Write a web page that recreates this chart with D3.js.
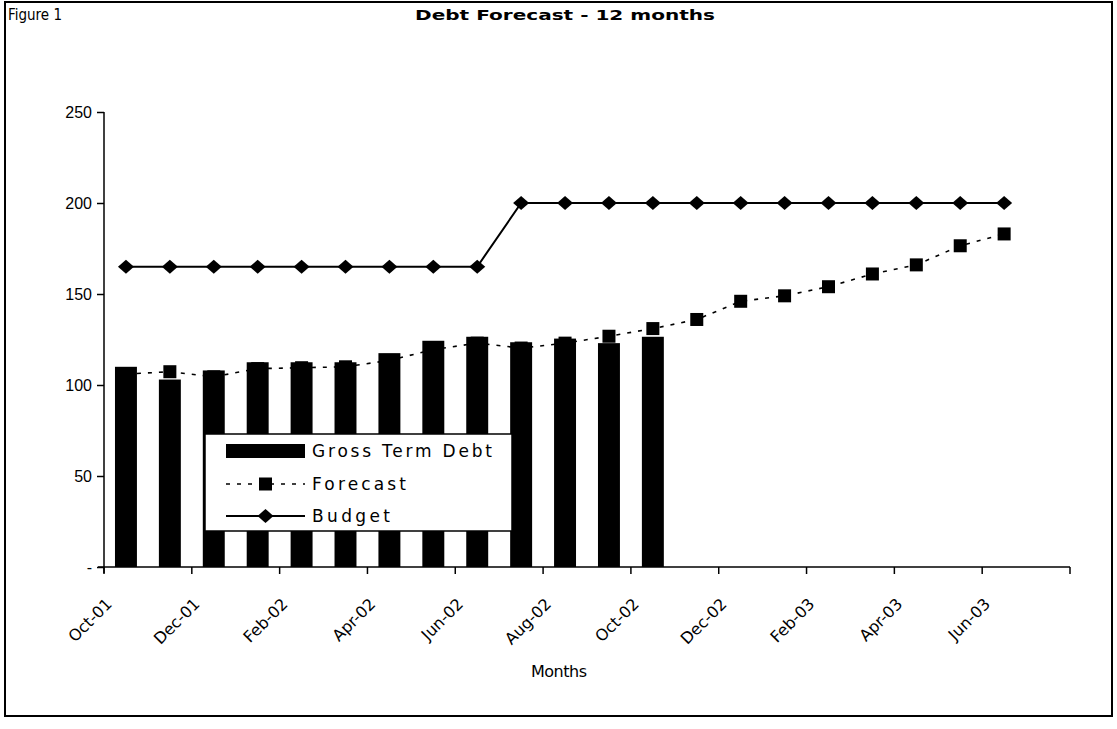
<!DOCTYPE html>
<html>
<head>
<meta charset="utf-8">
<script src="https://cdn.jsdelivr.net/npm/d3@7"></script>
<style>
  html, body { margin: 0; padding: 0; background: #fff; }
  svg { display: block; font-family: "DejaVu Sans", sans-serif; }
</style>
</head>
<body>
<svg id="chart" width="1117" height="729"></svg>
<script>
// Monthly categories on the horizontal axis (Oct 2001 – Jul 2003)
const months = ["Oct-01","Nov-01","Dec-01","Jan-02","Feb-02","Mar-02","Apr-02","May-02",
  "Jun-02","Jul-02","Aug-02","Sep-02","Oct-02","Nov-02","Dec-02","Jan-03","Feb-03",
  "Mar-03","Apr-03","May-03","Jun-03","Jul-03"];

// Labels shown every second month
const tickLabels = ["Oct-01","Dec-01","Feb-02","Apr-02","Jun-02","Aug-02","Oct-02",
  "Dec-02","Feb-03","Apr-03","Jun-03"];

// Actual gross term debt (Oct-01 .. Oct-02)
const grossTermDebt = [110, 103, 108, 112.5, 112.5, 112.5, 117.5, 124.3, 126.5, 123.5, 125.5, 123, 126.5];

// Forecast debt (Oct-01 .. Jun-03)
const forecast = [106, 107.3, 104.5, 109, 109.5, 110, 113.5, 119.5, 123, 120.3, 123, 126.8,
  131, 136, 146, 149, 154, 161, 166, 176.5, 183];

// Budgeted debt ceiling (Oct-01 .. Jun-03)
const budget = [165, 165, 165, 165, 165, 165, 165, 165, 165, 200, 200, 200,
  200, 200, 200, 200, 200, 200, 200, 200, 200];

// Value axis
const yTicks = [0, 50, 100, 150, 200, 250];
const yTickLabels = ["-", "50", "100", "150", "200", "250"];

const svg = d3.select("#chart");

// Outer frame
svg.append("rect")
  .attr("x", 5).attr("y", 2).attr("width", 1107).attr("height", 714)
  .attr("fill", "none").attr("stroke", "#000").attr("stroke-width", 2);

svg.append("text").attr("x", 8).attr("y", 20)
  .attr("font-size", 15).attr("textLength", 54).attr("lengthAdjust", "spacingAndGlyphs")
  .text("Figure 1");

svg.append("text").attr("x", 565).attr("y", 20)
  .attr("text-anchor", "middle").attr("font-size", 14).attr("font-weight", "bold")
  .attr("textLength", 300).attr("lengthAdjust", "spacingAndGlyphs")
  .text("Debt Forecast - 12 months");

const plot = { left: 104, right: 1070, top: 112, bottom: 567 };

const x = d3.scaleBand().domain(months)
  .range([plot.left, plot.right]).paddingInner(0.5).paddingOuter(0.25);
const step = x.step();
const cx = m => x(m) + x.bandwidth() / 2;

const y = d3.scaleLinear().domain([0, 250]).range([plot.bottom, plot.top]);

// Y axis
const yAxis = svg.append("g").attr("transform", `translate(${plot.left},0)`)
  .call(d3.axisLeft(y).tickValues(yTicks).tickSize(7).tickPadding(5)
    .tickFormat((d, i) => yTickLabels[i]));
yAxis.select(".domain").attr("stroke-width", 1.5).attr("d", `M-0,${y(250)}V${y(0) + 6}`);
yAxis.selectAll(".tick line").attr("stroke-width", 1.5);
yAxis.selectAll("text").attr("font-size", 16).attr("fill", "#000");

// X axis line and tick marks at every second month boundary
svg.append("line")
  .attr("x1", plot.left - 6).attr("x2", plot.right)
  .attr("y1", y(0)).attr("y2", y(0))
  .attr("stroke", "#000").attr("stroke-width", 1.5);

const tickIdx = d3.range(0, months.length + 1, 2);
svg.append("g").selectAll("line").data(tickIdx).join("line")
  .attr("x1", i => x.range()[0] + i * step).attr("x2", i => x.range()[0] + i * step)
  .attr("y1", y(0)).attr("y2", y(0) + 7)
  .attr("stroke", "#000").attr("stroke-width", 1.5);

svg.append("g").selectAll("text").data(tickLabels).join("text")
  .attr("transform", (d, i) => `translate(${x.range()[0] + 2 * i * step + 9},${y(0) + 38}) rotate(-45)`)
  .attr("text-anchor", "end")
  .attr("font-size", 16)
  .text(d => d);

svg.append("text").attr("x", 559).attr("y", 677)
  .attr("text-anchor", "middle").attr("font-size", 16)
  .attr("textLength", 56).attr("lengthAdjust", "spacing").text("Months");

// Forecast (dashed, square markers) – drawn beneath the columns
const fData = forecast.map((v, i) => ({ m: months[i], v }));
svg.append("path").datum(fData)
  .attr("fill", "none").attr("stroke", "#000").attr("stroke-width", 1.6)
  .attr("stroke-dasharray", "4,7")
  .attr("d", d3.line().x(d => cx(d.m)).y(d => y(d.v)));
svg.append("g").selectAll("rect").data(fData).join("rect")
  .attr("x", d => cx(d.m) - 6.5).attr("y", d => y(d.v) - 6.5)
  .attr("width", 13).attr("height", 13).attr("fill", "#000");

// Gross term debt columns
const gData = grossTermDebt.map((v, i) => ({ m: months[i], v }));
svg.append("g").selectAll("rect").data(gData).join("rect")
  .attr("x", d => x(d.m)).attr("y", d => y(d.v))
  .attr("width", x.bandwidth()).attr("height", d => y(0) - y(d.v))
  .attr("fill", "#000");

// Budget (solid, diamond markers)
const diamond = "M0,-7L8,0L0,7L-8,0Z";
const bData = budget.map((v, i) => ({ m: months[i], v }));
svg.append("path").datum(bData)
  .attr("fill", "none").attr("stroke", "#000").attr("stroke-width", 2)
  .attr("d", d3.line().x(d => cx(d.m)).y(d => y(d.v)));
svg.append("g").selectAll("path").data(bData).join("path")
  .attr("transform", d => `translate(${cx(d.m)},${y(d.v)})`)
  .attr("d", diamond).attr("fill", "#000");

// Legend
const lg = svg.append("g");
lg.append("rect").attr("x", 205).attr("y", 434).attr("width", 307).attr("height", 97)
  .attr("fill", "#fff").attr("stroke", "#000").attr("stroke-width", 1.5);
const rows = [
  { name: "Gross Term Debt", y: 451, w: 180 },
  { name: "Forecast", y: 484, w: 94 },
  { name: "Budget", y: 516, w: 78 }
];
lg.append("rect").attr("x", 226).attr("y", rows[0].y - 7).attr("width", 79).attr("height", 14).attr("fill", "#000");
lg.append("line").attr("x1", 226).attr("x2", 305).attr("y1", rows[1].y).attr("y2", rows[1].y)
  .attr("stroke", "#000").attr("stroke-width", 1.6).attr("stroke-dasharray", "4,7");
lg.append("rect").attr("x", 259).attr("y", rows[1].y - 6.5).attr("width", 13).attr("height", 13).attr("fill", "#000");
lg.append("line").attr("x1", 226).attr("x2", 305).attr("y1", rows[2].y).attr("y2", rows[2].y)
  .attr("stroke", "#000").attr("stroke-width", 2);
lg.append("path").attr("transform", `translate(265.5,${rows[2].y})`).attr("d", diamond).attr("fill", "#000");
lg.selectAll("text.lab").data(rows).join("text").attr("class", "lab")
  .attr("x", 312).attr("y", d => d.y + 6).attr("font-size", 17)
  .attr("textLength", d => d.w).attr("lengthAdjust", "spacing")
  .text(d => d.name);
</script>
</body>
</html>
